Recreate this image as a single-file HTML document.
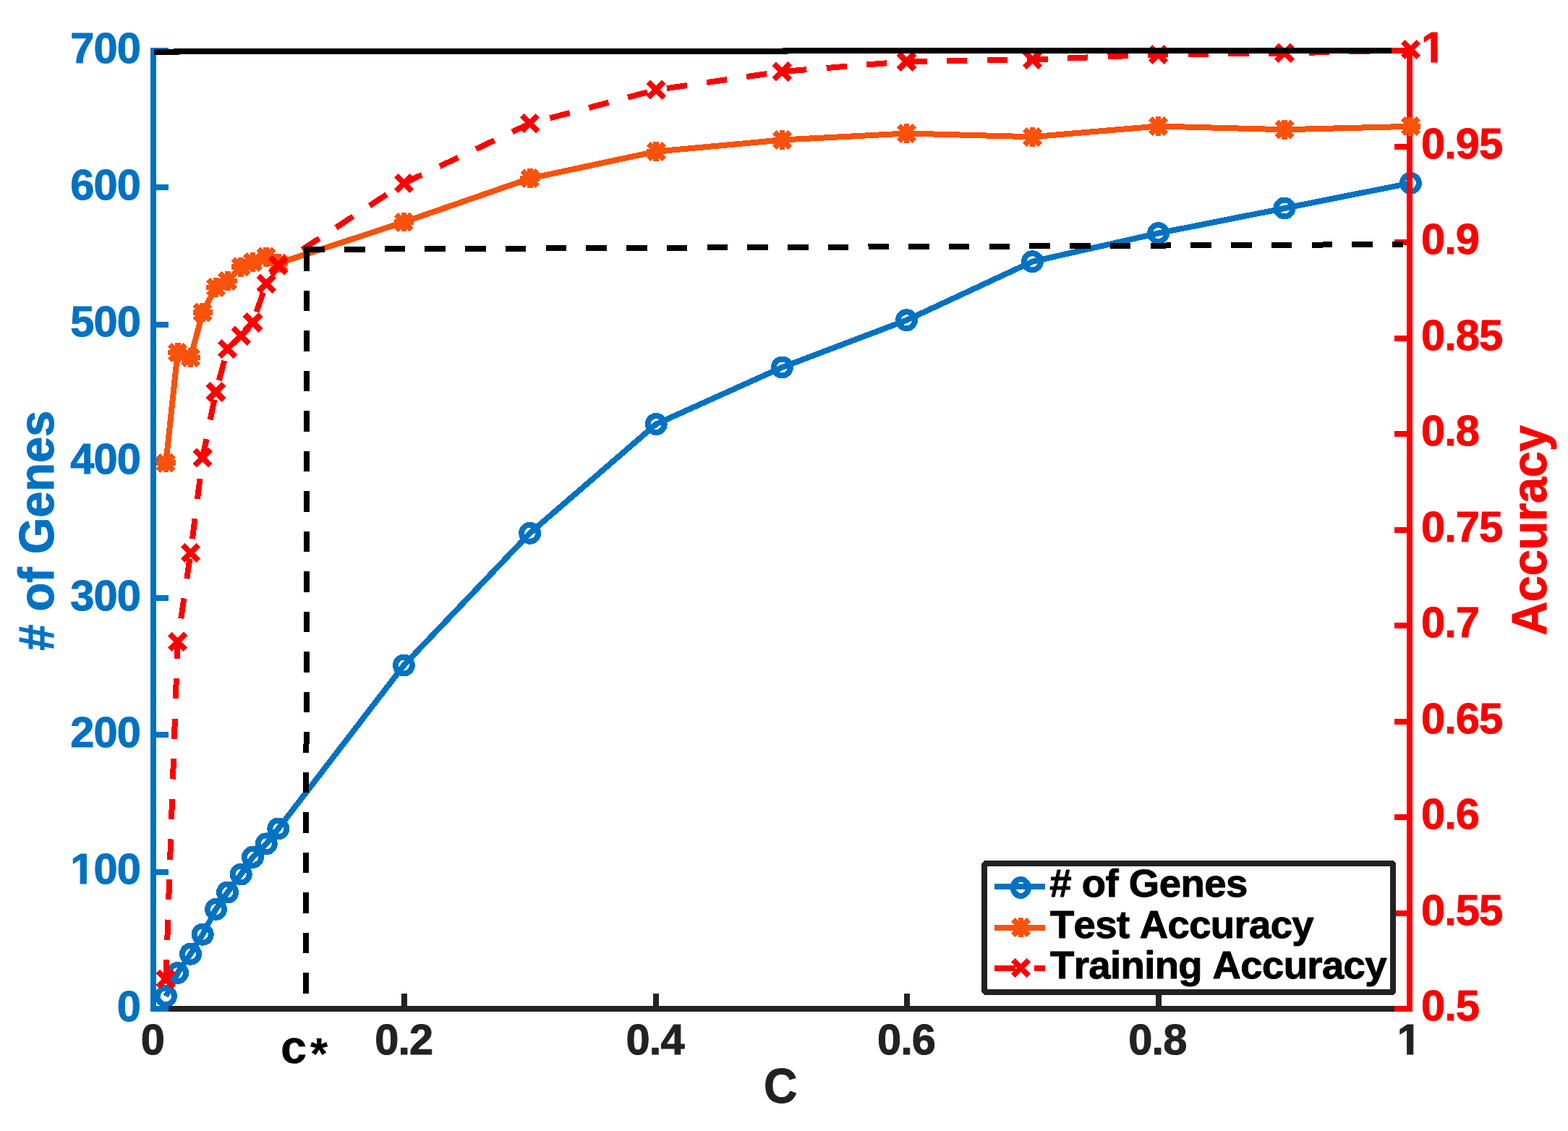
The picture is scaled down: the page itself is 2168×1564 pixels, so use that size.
<!DOCTYPE html>
<html lang="en"><head><meta charset="utf-8"><title>Genes and accuracy vs C</title>
<style>
html,body{margin:0;padding:0;background:#fff;}
body{width:2168px;height:1564px;overflow:hidden;}
svg{display:block;}
text{font-family:"Liberation Sans",sans-serif;font-weight:bold;font-kerning:none;stroke-linejoin:round;white-space:pre;}
.mono{font-family:"Liberation Mono",monospace;}
</style></head><body>
<svg width="2168" height="1564" viewBox="0 0 2168 1564" shape-rendering="crispEdges">
<rect x="0" y="0" width="2168" height="1564" fill="#fff"/>
<g id="series-genes"><polyline points="229.40,1377.70 245.60,1345.50 263.50,1319.20 280.20,1292.20 298.50,1257.40 314.60,1234.00 333.20,1209.00 349.50,1185.30 368.20,1166.90 384.80,1146.00 558.40,920.00 732.70,737.25 907.20,586.50 1081.40,508.00 1253.50,442.75 1427.40,361.75 1601.60,322.50 1776.00,288.00 1950.40,253.25" fill="none" stroke="#0072C3" stroke-width="8" stroke-linejoin="round"/>
<circle cx="229.40" cy="1377.70" r="11.5" fill="none" stroke="#0072C3" stroke-width="8"/>
<circle cx="245.60" cy="1345.50" r="11.5" fill="none" stroke="#0072C3" stroke-width="8"/>
<circle cx="263.50" cy="1319.20" r="11.5" fill="none" stroke="#0072C3" stroke-width="8"/>
<circle cx="280.20" cy="1292.20" r="11.5" fill="none" stroke="#0072C3" stroke-width="8"/>
<circle cx="298.50" cy="1257.40" r="11.5" fill="none" stroke="#0072C3" stroke-width="8"/>
<circle cx="314.60" cy="1234.00" r="11.5" fill="none" stroke="#0072C3" stroke-width="8"/>
<circle cx="333.20" cy="1209.00" r="11.5" fill="none" stroke="#0072C3" stroke-width="8"/>
<circle cx="349.50" cy="1185.30" r="11.5" fill="none" stroke="#0072C3" stroke-width="8"/>
<circle cx="368.20" cy="1166.90" r="11.5" fill="none" stroke="#0072C3" stroke-width="8"/>
<circle cx="384.80" cy="1146.00" r="11.5" fill="none" stroke="#0072C3" stroke-width="8"/>
<circle cx="558.40" cy="920.00" r="11.5" fill="none" stroke="#0072C3" stroke-width="8"/>
<circle cx="732.70" cy="737.25" r="11.5" fill="none" stroke="#0072C3" stroke-width="8"/>
<circle cx="907.20" cy="586.50" r="11.5" fill="none" stroke="#0072C3" stroke-width="8"/>
<circle cx="1081.40" cy="508.00" r="11.5" fill="none" stroke="#0072C3" stroke-width="8"/>
<circle cx="1253.50" cy="442.75" r="11.5" fill="none" stroke="#0072C3" stroke-width="8"/>
<circle cx="1427.40" cy="361.75" r="11.5" fill="none" stroke="#0072C3" stroke-width="8"/>
<circle cx="1601.60" cy="322.50" r="11.5" fill="none" stroke="#0072C3" stroke-width="8"/>
<circle cx="1776.00" cy="288.00" r="11.5" fill="none" stroke="#0072C3" stroke-width="8"/>
<circle cx="1950.40" cy="253.25" r="11.5" fill="none" stroke="#0072C3" stroke-width="8"/>
</g>
<g id="xaxis" stroke="#222222" stroke-width="8">
<line x1="212.0" y1="1395.0" x2="1949.0" y2="1395.0"/>
<line x1="559.40" y1="1374" x2="559.40" y2="1395.0"/>
<line x1="906.80" y1="1374" x2="906.80" y2="1395.0"/>
<line x1="1254.20" y1="1374" x2="1254.20" y2="1395.0"/>
<line x1="1601.60" y1="1374" x2="1601.60" y2="1395.0"/>
</g>
<g id="yaxis-left" stroke="#0072C3" stroke-width="8">
<line x1="212.0" y1="66" x2="212.0" y2="1399"/>
<line x1="208" y1="1395.00" x2="233" y2="1395.00"/>
<line x1="208" y1="1205.71" x2="233" y2="1205.71"/>
<line x1="208" y1="1016.43" x2="233" y2="1016.43"/>
<line x1="208" y1="827.14" x2="233" y2="827.14"/>
<line x1="208" y1="637.86" x2="233" y2="637.86"/>
<line x1="208" y1="448.57" x2="233" y2="448.57"/>
<line x1="208" y1="259.29" x2="233" y2="259.29"/>
<line x1="208" y1="70.00" x2="233" y2="70.00"/>
</g>
<g id="yaxis-right" stroke="#FF0000" stroke-width="8">
<line x1="1949.0" y1="66" x2="1949.0" y2="1399"/>
<line x1="1928" y1="1395.00" x2="1953" y2="1395.00"/>
<line x1="1928" y1="1262.50" x2="1953" y2="1262.50"/>
<line x1="1928" y1="1130.00" x2="1953" y2="1130.00"/>
<line x1="1928" y1="997.50" x2="1953" y2="997.50"/>
<line x1="1928" y1="865.00" x2="1953" y2="865.00"/>
<line x1="1928" y1="732.50" x2="1953" y2="732.50"/>
<line x1="1928" y1="600.00" x2="1953" y2="600.00"/>
<line x1="1928" y1="467.50" x2="1953" y2="467.50"/>
<line x1="1928" y1="335.00" x2="1953" y2="335.00"/>
<line x1="1928" y1="202.50" x2="1953" y2="202.50"/>
<line x1="1924" y1="70.00" x2="1953" y2="70.00"/>
</g>
<g id="series-test"><polyline points="229.40,640.10 245.60,487.50 263.50,494.50 280.20,431.90 298.50,397.40 314.60,388.40 333.20,369.20 349.50,362.20 368.20,355.20 384.80,364.10 558.40,307.10 732.70,246.75 907.20,209.50 1081.40,193.50 1253.50,184.50 1427.40,189.25 1601.60,174.50 1776.00,179.25 1950.40,174.80" fill="none" stroke="#F9520A" stroke-width="8" stroke-linejoin="round"/>
<path transform="translate(229.40,640.10)" d="M-13.3,0H13.3M0,-13.3V13.3M-10.7,-10.7L10.7,10.7M-10.7,10.7L10.7,-10.7" fill="none" stroke="#F9520A" stroke-width="7.8"/>
<path transform="translate(245.60,487.50)" d="M-13.3,0H13.3M0,-13.3V13.3M-10.7,-10.7L10.7,10.7M-10.7,10.7L10.7,-10.7" fill="none" stroke="#F9520A" stroke-width="7.8"/>
<path transform="translate(263.50,494.50)" d="M-13.3,0H13.3M0,-13.3V13.3M-10.7,-10.7L10.7,10.7M-10.7,10.7L10.7,-10.7" fill="none" stroke="#F9520A" stroke-width="7.8"/>
<path transform="translate(280.20,431.90)" d="M-13.3,0H13.3M0,-13.3V13.3M-10.7,-10.7L10.7,10.7M-10.7,10.7L10.7,-10.7" fill="none" stroke="#F9520A" stroke-width="7.8"/>
<path transform="translate(298.50,397.40)" d="M-13.3,0H13.3M0,-13.3V13.3M-10.7,-10.7L10.7,10.7M-10.7,10.7L10.7,-10.7" fill="none" stroke="#F9520A" stroke-width="7.8"/>
<path transform="translate(314.60,388.40)" d="M-13.3,0H13.3M0,-13.3V13.3M-10.7,-10.7L10.7,10.7M-10.7,10.7L10.7,-10.7" fill="none" stroke="#F9520A" stroke-width="7.8"/>
<path transform="translate(333.20,369.20)" d="M-13.3,0H13.3M0,-13.3V13.3M-10.7,-10.7L10.7,10.7M-10.7,10.7L10.7,-10.7" fill="none" stroke="#F9520A" stroke-width="7.8"/>
<path transform="translate(349.50,362.20)" d="M-13.3,0H13.3M0,-13.3V13.3M-10.7,-10.7L10.7,10.7M-10.7,10.7L10.7,-10.7" fill="none" stroke="#F9520A" stroke-width="7.8"/>
<path transform="translate(368.20,355.20)" d="M-13.3,0H13.3M0,-13.3V13.3M-10.7,-10.7L10.7,10.7M-10.7,10.7L10.7,-10.7" fill="none" stroke="#F9520A" stroke-width="7.8"/>
<path transform="translate(384.80,364.10)" d="M-13.3,0H13.3M0,-13.3V13.3M-10.7,-10.7L10.7,10.7M-10.7,10.7L10.7,-10.7" fill="none" stroke="#F9520A" stroke-width="7.8"/>
<path transform="translate(558.40,307.10)" d="M-13.3,0H13.3M0,-13.3V13.3M-10.7,-10.7L10.7,10.7M-10.7,10.7L10.7,-10.7" fill="none" stroke="#F9520A" stroke-width="7.8"/>
<path transform="translate(732.70,246.75)" d="M-13.3,0H13.3M0,-13.3V13.3M-10.7,-10.7L10.7,10.7M-10.7,10.7L10.7,-10.7" fill="none" stroke="#F9520A" stroke-width="7.8"/>
<path transform="translate(907.20,209.50)" d="M-13.3,0H13.3M0,-13.3V13.3M-10.7,-10.7L10.7,10.7M-10.7,10.7L10.7,-10.7" fill="none" stroke="#F9520A" stroke-width="7.8"/>
<path transform="translate(1081.40,193.50)" d="M-13.3,0H13.3M0,-13.3V13.3M-10.7,-10.7L10.7,10.7M-10.7,10.7L10.7,-10.7" fill="none" stroke="#F9520A" stroke-width="7.8"/>
<path transform="translate(1253.50,184.50)" d="M-13.3,0H13.3M0,-13.3V13.3M-10.7,-10.7L10.7,10.7M-10.7,10.7L10.7,-10.7" fill="none" stroke="#F9520A" stroke-width="7.8"/>
<path transform="translate(1427.40,189.25)" d="M-13.3,0H13.3M0,-13.3V13.3M-10.7,-10.7L10.7,10.7M-10.7,10.7L10.7,-10.7" fill="none" stroke="#F9520A" stroke-width="7.8"/>
<path transform="translate(1601.60,174.50)" d="M-13.3,0H13.3M0,-13.3V13.3M-10.7,-10.7L10.7,10.7M-10.7,10.7L10.7,-10.7" fill="none" stroke="#F9520A" stroke-width="7.8"/>
<path transform="translate(1776.00,179.25)" d="M-13.3,0H13.3M0,-13.3V13.3M-10.7,-10.7L10.7,10.7M-10.7,10.7L10.7,-10.7" fill="none" stroke="#F9520A" stroke-width="7.8"/>
<path transform="translate(1950.40,174.80)" d="M-13.3,0H13.3M0,-13.3V13.3M-10.7,-10.7L10.7,10.7M-10.7,10.7L10.7,-10.7" fill="none" stroke="#F9520A" stroke-width="7.8"/>
</g>
<g id="series-train"><polyline points="229.40,1354.00 245.60,887.40 263.50,764.60 280.20,632.80 298.50,542.00 314.60,482.40 333.20,464.50 349.50,446.00 368.20,392.30 384.80,366.70 558.40,253.50 732.70,170.75 907.20,124.25 1081.40,99.00 1253.50,85.00 1427.40,82.50 1601.60,75.50 1776.00,73.40 1950.40,69.70" fill="none" stroke="#FF0000" stroke-width="8" stroke-dasharray="28.3 27.33" stroke-dashoffset="1.5" stroke-linejoin="round"/>
<path transform="translate(229.40,1354.00)" d="M-10.9,-10.9L10.9,10.9M-10.9,10.9L10.9,-10.9" fill="none" stroke="#FF0000" stroke-width="7.8"/>
<path transform="translate(245.60,887.40)" d="M-10.9,-10.9L10.9,10.9M-10.9,10.9L10.9,-10.9" fill="none" stroke="#FF0000" stroke-width="7.8"/>
<path transform="translate(263.50,764.60)" d="M-10.9,-10.9L10.9,10.9M-10.9,10.9L10.9,-10.9" fill="none" stroke="#FF0000" stroke-width="7.8"/>
<path transform="translate(280.20,632.80)" d="M-10.9,-10.9L10.9,10.9M-10.9,10.9L10.9,-10.9" fill="none" stroke="#FF0000" stroke-width="7.8"/>
<path transform="translate(298.50,542.00)" d="M-10.9,-10.9L10.9,10.9M-10.9,10.9L10.9,-10.9" fill="none" stroke="#FF0000" stroke-width="7.8"/>
<path transform="translate(314.60,482.40)" d="M-10.9,-10.9L10.9,10.9M-10.9,10.9L10.9,-10.9" fill="none" stroke="#FF0000" stroke-width="7.8"/>
<path transform="translate(333.20,464.50)" d="M-10.9,-10.9L10.9,10.9M-10.9,10.9L10.9,-10.9" fill="none" stroke="#FF0000" stroke-width="7.8"/>
<path transform="translate(349.50,446.00)" d="M-10.9,-10.9L10.9,10.9M-10.9,10.9L10.9,-10.9" fill="none" stroke="#FF0000" stroke-width="7.8"/>
<path transform="translate(368.20,392.30)" d="M-10.9,-10.9L10.9,10.9M-10.9,10.9L10.9,-10.9" fill="none" stroke="#FF0000" stroke-width="7.8"/>
<path transform="translate(384.80,366.70)" d="M-10.9,-10.9L10.9,10.9M-10.9,10.9L10.9,-10.9" fill="none" stroke="#FF0000" stroke-width="7.8"/>
<path transform="translate(558.40,253.50)" d="M-10.9,-10.9L10.9,10.9M-10.9,10.9L10.9,-10.9" fill="none" stroke="#FF0000" stroke-width="7.8"/>
<path transform="translate(732.70,170.75)" d="M-10.9,-10.9L10.9,10.9M-10.9,10.9L10.9,-10.9" fill="none" stroke="#FF0000" stroke-width="7.8"/>
<path transform="translate(907.20,124.25)" d="M-10.9,-10.9L10.9,10.9M-10.9,10.9L10.9,-10.9" fill="none" stroke="#FF0000" stroke-width="7.8"/>
<path transform="translate(1081.40,99.00)" d="M-10.9,-10.9L10.9,10.9M-10.9,10.9L10.9,-10.9" fill="none" stroke="#FF0000" stroke-width="7.8"/>
<path transform="translate(1253.50,85.00)" d="M-10.9,-10.9L10.9,10.9M-10.9,10.9L10.9,-10.9" fill="none" stroke="#FF0000" stroke-width="7.8"/>
<path transform="translate(1427.40,82.50)" d="M-10.9,-10.9L10.9,10.9M-10.9,10.9L10.9,-10.9" fill="none" stroke="#FF0000" stroke-width="7.8"/>
<path transform="translate(1601.60,75.50)" d="M-10.9,-10.9L10.9,10.9M-10.9,10.9L10.9,-10.9" fill="none" stroke="#FF0000" stroke-width="7.8"/>
<path transform="translate(1776.00,73.40)" d="M-10.9,-10.9L10.9,10.9M-10.9,10.9L10.9,-10.9" fill="none" stroke="#FF0000" stroke-width="7.8"/>
<path transform="translate(1950.40,68.50)" d="M-10.9,-10.9L10.9,10.9M-10.9,10.9L10.9,-10.9" fill="none" stroke="#FF0000" stroke-width="7.8"/>
</g>
<g id="ref-lines" stroke="#000000" stroke-width="8" fill="none">
<path d="M213,72.15H244V71.1H1086V70H1924" stroke-linejoin="miter"/>
<line x1="424.3" y1="346.5" x2="423.1" y2="1395" stroke-dasharray="28.2 27.29"/>
<line x1="420.3" y1="345" x2="1939.75" y2="338" stroke-dasharray="28.5 27.23"/>
</g>
<g id="ticklabels-left">
<text x="161.70" y="1411.70" fill="#0072C3" stroke="#0072C3" stroke-width="1.0" style="font-size:59.6px;letter-spacing:-0.900px;">0</text>
<clipPath id="c1_1"><path clip-rule="evenodd" d="M77.20,1162.81H213.94V1246.25H77.20ZM97.96,1214.63H110.62V1225.41H97.96ZM119.79,1214.63H131.69V1225.41H119.79Z"/></clipPath>
<text x="97.20" y="1222.41" fill="#0072C3" stroke="#0072C3" stroke-width="1.0" clip-path="url(#c1_1)" style="font-size:59.6px;letter-spacing:-0.900px;">100</text>
<text x="97.20" y="1033.13" fill="#0072C3" stroke="#0072C3" stroke-width="1.0" style="font-size:59.6px;letter-spacing:-0.900px;">200</text>
<text x="97.20" y="843.84" fill="#0072C3" stroke="#0072C3" stroke-width="1.0" style="font-size:59.6px;letter-spacing:-0.900px;">300</text>
<text x="97.20" y="654.56" fill="#0072C3" stroke="#0072C3" stroke-width="1.0" style="font-size:59.6px;letter-spacing:-0.900px;">400</text>
<text x="97.20" y="465.27" fill="#0072C3" stroke="#0072C3" stroke-width="1.0" style="font-size:59.6px;letter-spacing:-0.900px;">500</text>
<text x="97.20" y="275.99" fill="#0072C3" stroke="#0072C3" stroke-width="1.0" style="font-size:59.6px;letter-spacing:-0.900px;">600</text>
<text x="97.20" y="86.70" fill="#0072C3" stroke="#0072C3" stroke-width="1.0" style="font-size:59.6px;letter-spacing:-0.900px;">700</text>
</g>
<g id="ticklabels-right">
<text x="1964.94" y="1411.40" fill="#FF0000" stroke="#FF0000" stroke-width="1.0" style="font-size:59.6px;letter-spacing:-0.900px;">0.5</text>
<text x="1964.94" y="1278.90" fill="#FF0000" stroke="#FF0000" stroke-width="1.0" style="font-size:59.6px;letter-spacing:-0.900px;">0.55</text>
<text x="1964.94" y="1146.40" fill="#FF0000" stroke="#FF0000" stroke-width="1.0" style="font-size:59.6px;letter-spacing:-0.900px;">0.6</text>
<text x="1964.94" y="1013.90" fill="#FF0000" stroke="#FF0000" stroke-width="1.0" style="font-size:59.6px;letter-spacing:-0.900px;">0.65</text>
<text x="1964.94" y="881.40" fill="#FF0000" stroke="#FF0000" stroke-width="1.0" style="font-size:59.6px;letter-spacing:-0.900px;">0.7</text>
<text x="1964.94" y="748.90" fill="#FF0000" stroke="#FF0000" stroke-width="1.0" style="font-size:59.6px;letter-spacing:-0.900px;">0.75</text>
<text x="1964.94" y="616.40" fill="#FF0000" stroke="#FF0000" stroke-width="1.0" style="font-size:59.6px;letter-spacing:-0.900px;">0.8</text>
<text x="1964.94" y="483.90" fill="#FF0000" stroke="#FF0000" stroke-width="1.0" style="font-size:59.6px;letter-spacing:-0.900px;">0.85</text>
<text x="1964.94" y="351.40" fill="#FF0000" stroke="#FF0000" stroke-width="1.0" style="font-size:59.6px;letter-spacing:-0.900px;">0.9</text>
<text x="1964.94" y="218.90" fill="#FF0000" stroke="#FF0000" stroke-width="1.0" style="font-size:59.6px;letter-spacing:-0.900px;">0.95</text>
<clipPath id="c1_2"><path clip-rule="evenodd" d="M1944.94,26.80H2017.19V110.24H1944.94ZM1965.70,78.62H1978.35V89.40H1965.70ZM1987.53,78.62H1999.43V89.40H1987.53Z"/></clipPath>
<text x="1964.94" y="86.40" fill="#FF0000" stroke="#FF0000" stroke-width="1.0" clip-path="url(#c1_2)" style="font-size:59.6px;letter-spacing:-0.900px;">1</text>
</g>
<g id="ticklabels-x">
<text x="194.73" y="1457.90" fill="#222222" stroke="#222222" stroke-width="1.0" style="font-size:59.6px;letter-spacing:-0.900px;">0</text>
<text x="518.17" y="1457.90" fill="#222222" stroke="#222222" stroke-width="1.0" style="font-size:59.6px;letter-spacing:-0.900px;">0.2</text>
<text x="865.57" y="1457.90" fill="#222222" stroke="#222222" stroke-width="1.0" style="font-size:59.6px;letter-spacing:-0.900px;">0.4</text>
<text x="1212.97" y="1457.90" fill="#222222" stroke="#222222" stroke-width="1.0" style="font-size:59.6px;letter-spacing:-0.900px;">0.6</text>
<text x="1560.37" y="1457.90" fill="#222222" stroke="#222222" stroke-width="1.0" style="font-size:59.6px;letter-spacing:-0.900px;">0.8</text>
<clipPath id="c1_3"><path clip-rule="evenodd" d="M1911.73,1398.30H1983.97V1481.74H1911.73ZM1932.48,1450.12H1945.14V1460.90H1932.48ZM1954.31,1450.12H1966.21V1460.90H1954.31Z"/></clipPath>
<text x="1931.73" y="1457.90" fill="#222222" stroke="#222222" stroke-width="1.0" clip-path="url(#c1_3)" style="font-size:59.6px;letter-spacing:-0.900px;">1</text>
</g>
<text class="mono" fill="#000000" stroke="#000000" stroke-width="0.3"><tspan x="386.9" y="1470.2" style="font-size:65.2px">c</tspan><tspan x="422.4" y="1479.8" style="font-size:62px">*</tspan></text>
<g transform="translate(1079.7,0) scale(0.93,1) translate(-1079.7,0)">
<text x="1054.24" y="1525.20" fill="#222222" stroke="#222222" stroke-width="1.0" style="font-size:69.2px;letter-spacing:0.000px;">C</text>
</g>
<text transform="translate(74.30,899.10) rotate(-90) scale(0.94,1)" x="-0.65" y="0" fill="#0072C3" stroke="#0072C3" stroke-width="1.0" style="font-size:69.2px;letter-spacing:-0.071px;"># of Genes</text>
<text transform="translate(2137.70,877.70) rotate(-90) scale(0.94,1)" x="-1.19" y="0" fill="#FF0000" stroke="#FF0000" stroke-width="1.0" style="font-size:69.2px;letter-spacing:-0.340px;">Accuracy</text>
<g id="legend">
<rect x="1361" y="1194" width="565" height="178" fill="#fff" stroke="#222222" stroke-width="8" stroke-linejoin="bevel"/>
<line x1="1375" y1="1226" x2="1445" y2="1226" stroke="#0072C3" stroke-width="8"/><ellipse cx="1411.3" cy="1227.5" rx="10.5" ry="11.5" fill="none" stroke="#0072C3" stroke-width="8"/>
<line x1="1375" y1="1283" x2="1445" y2="1283" stroke="#F9520A" stroke-width="8"/>
<path transform="translate(1411.50,1282.70)" d="M-13.3,0H13.3M0,-13.3V13.3M-10.7,-10.7L10.7,10.7M-10.7,10.7L10.7,-10.7" fill="none" stroke="#F9520A" stroke-width="7.8"/>
<line x1="1375" y1="1338.5" x2="1445" y2="1338.5" stroke="#FF0000" stroke-width="8" stroke-dasharray="28.6 26.4"/>
<path transform="translate(1411.50,1338.50)" d="M-10.9,-10.9L10.9,10.9M-10.9,10.9L10.9,-10.9" fill="none" stroke="#FF0000" stroke-width="7.8"/>
<text x="1451.27" y="1239.70" fill="#000000" stroke="#000000" stroke-width="1.0" style="font-size:54.5px;letter-spacing:-0.498px;"># of Genes</text>
<text x="1451.99" y="1296.70" fill="#000000" stroke="#000000" stroke-width="1.0" style="font-size:54.5px;letter-spacing:-0.667px;">Test Accuracy</text>
<text x="1451.99" y="1352.90" fill="#000000" stroke="#000000" stroke-width="1.0" style="font-size:54.5px;letter-spacing:-0.620px;">Training Accuracy</text>
</g>
</svg>
</body></html>
